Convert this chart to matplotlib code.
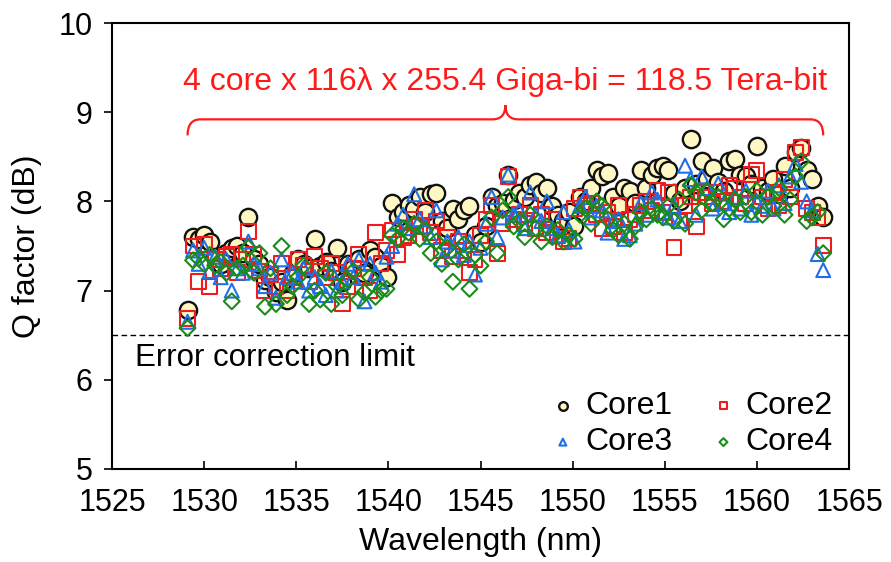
import numpy as np
import matplotlib
matplotlib.use("Agg")
import matplotlib.pyplot as plt
from matplotlib.path import Path
from matplotlib.patches import PathPatch

plt.rcParams["font.family"] = ["Liberation Sans", "DejaVu Sans"]

# channel wavelengths (nm), 116 channels
wavelength = [
    1529.1, 1529.4, 1529.7, 1530.0, 1530.3, 1530.6, 1530.9, 1531.2, 1531.5, 1531.8,
    1532.1, 1532.4, 1532.7, 1533.0, 1533.3, 1533.6, 1533.9, 1534.2, 1534.5, 1534.8,
    1535.1, 1535.4, 1535.7, 1536.0, 1536.3, 1536.6, 1536.9, 1537.2, 1537.5, 1537.8,
    1538.1, 1538.4, 1538.7, 1539.0, 1539.3, 1539.6, 1539.9, 1540.2, 1540.5, 1540.8,
    1541.1, 1541.4, 1541.7, 1542.0, 1542.3, 1542.6, 1542.9, 1543.2, 1543.5, 1543.8,
    1544.1, 1544.4, 1544.7, 1545.0, 1545.3, 1545.6, 1545.9, 1546.2, 1546.5, 1546.8,
    1547.1, 1547.4, 1547.7, 1548.0, 1548.3, 1548.6, 1548.9, 1549.2, 1549.5, 1549.8,
    1550.1, 1550.4, 1550.7, 1551.0, 1551.3, 1551.6, 1551.9, 1552.2, 1552.5, 1552.8,
    1553.1, 1553.4, 1553.7, 1554.0, 1554.3, 1554.6, 1554.9, 1555.2, 1555.5, 1555.8,
    1556.1, 1556.4, 1556.7, 1557.0, 1557.3, 1557.6, 1557.9, 1558.2, 1558.5, 1558.8,
    1559.1, 1559.4, 1559.7, 1560.0, 1560.3, 1560.6, 1560.9, 1561.2, 1561.5, 1561.8,
    1562.1, 1562.4, 1562.7, 1563.0, 1563.3, 1563.6,
]

core1 = [
    6.78, 7.60, 7.58, 7.62, 7.55, 7.38, 7.30, 7.42, 7.48, 7.50,
    7.42, 7.82, 7.35, 7.30, 7.12, 7.15, 6.98, 7.10, 6.90, 7.20,
    7.35, 7.30, 7.25, 7.58, 7.28, 7.32, 7.22, 7.48, 7.10, 7.30,
    7.25, 7.35, 7.20, 7.45, 7.38, 7.28, 7.15, 7.98, 7.82, 7.88,
    7.96, 7.92, 8.05, 7.88, 8.08, 8.10, 7.78, 7.70, 7.92, 7.80,
    7.90, 7.95, 7.62, 7.55, 7.72, 8.05, 7.95, 7.98, 8.30, 8.02,
    8.10, 8.05, 8.18, 8.22, 8.10, 8.15, 7.95, 7.85, 7.78, 7.88,
    7.72, 8.05, 8.00, 8.15, 8.35, 8.28, 8.32, 8.05, 7.95, 8.15,
    8.12, 7.98, 8.35, 8.15, 8.30, 8.38, 8.40, 8.35, 8.10, 8.00,
    8.15, 8.70, 8.20, 8.45, 8.25, 8.38, 8.22, 8.12, 8.45, 8.48,
    8.30, 8.28, 8.20, 8.62, 8.15, 8.12, 8.25, 8.08, 8.40, 8.15,
    8.55, 8.60, 8.35, 8.25, 7.95, 7.82,
]

core2 = [
    6.69, 7.50, 7.10, 7.52, 7.05, 7.35, 7.25, 7.38, 7.40, 7.20,
    7.35, 7.66, 7.40, 7.22, 7.00, 7.18, 7.05, 7.30, 7.00, 7.15,
    7.35, 7.28, 7.10, 7.38, 7.25, 7.15, 7.30, 7.20, 6.85, 7.05,
    7.25, 7.40, 7.15, 7.00, 7.65, 7.30, 7.45, 7.68, 7.40, 7.60,
    7.62, 7.80, 7.72, 7.90, 7.65, 7.78, 7.45, 7.60, 7.38, 7.55,
    7.45, 7.20, 7.35, 7.62, 7.80, 7.95, 7.42, 7.75, 8.28, 7.80,
    7.85, 7.75, 7.95, 7.70, 7.85, 7.65, 7.80, 7.62, 7.55, 7.58,
    7.92, 8.05, 7.95, 7.98, 7.85, 7.70, 7.88, 7.72, 7.95, 7.65,
    7.80, 7.85, 7.95, 8.00, 7.90, 8.12, 7.88, 8.10, 7.48, 7.78,
    7.95, 8.05, 7.72, 8.10, 8.05, 7.98, 8.10, 8.00, 8.18, 8.15,
    8.05, 7.98, 8.30, 8.35, 8.05, 7.92, 8.10, 7.95, 8.25, 8.05,
    8.55, 8.60, 7.92, 7.88, 7.82, 7.51,
]

core3 = [
    6.65, 7.45, 7.30, 7.48, 7.22, 7.38, 7.15, 7.35, 7.00, 7.25,
    7.20, 7.55, 7.30, 7.25, 7.05, 7.20, 6.92, 7.35, 7.15, 7.20,
    7.10, 7.25, 7.00, 7.15, 7.05, 6.95, 7.22, 7.00, 7.10, 7.30,
    7.15, 7.35, 6.88, 7.30, 7.20, 7.10, 7.38, 7.50, 7.75, 7.85,
    7.70, 8.08, 7.80, 7.72, 7.60, 7.90, 7.35, 7.55, 7.45, 7.60,
    7.40, 7.55, 7.18, 7.48, 7.75, 8.05, 7.60, 7.82, 8.30, 7.85,
    7.90, 7.70, 8.10, 7.85, 7.78, 8.00, 7.70, 7.62, 7.88, 7.68,
    7.55, 7.95, 8.05, 7.82, 7.95, 7.90, 7.65, 7.78, 7.80, 7.58,
    7.62, 7.75, 7.98, 7.85, 8.10, 8.02, 7.88, 7.82, 7.95, 7.78,
    8.40, 8.25, 7.85, 8.28, 8.15, 7.92, 8.20, 7.98, 7.88, 8.05,
    7.92, 8.12, 7.85, 8.00, 7.95, 8.12, 7.92, 8.18, 7.98, 8.28,
    8.42, 8.22, 8.00, 7.90, 7.41, 7.23,
]

core4 = [
    6.58, 7.34, 7.36, 7.30, 7.40, 7.28, 7.32, 7.20, 6.88, 7.25,
    7.28, 7.48, 7.20, 7.42, 6.82, 7.25, 6.85, 7.50, 6.95, 7.05,
    7.15, 7.28, 6.85, 7.00, 6.90, 7.20, 6.85, 7.05, 6.95, 7.12,
    7.22, 6.90, 6.98, 7.15, 6.93, 7.00, 7.02, 7.62, 7.58, 7.70,
    7.65, 7.75, 7.58, 7.68, 7.42, 7.55, 7.30, 7.48, 7.10, 7.35,
    7.52, 7.02, 7.40, 7.28, 7.55, 7.82, 7.42, 7.90, 8.05, 7.72,
    7.78, 7.60, 7.85, 7.70, 7.55, 7.72, 7.60, 7.68, 7.55, 7.62,
    7.58, 7.85, 7.92, 7.75, 8.00, 7.95, 7.80, 7.68, 7.62, 7.75,
    7.58, 7.72, 7.88, 7.80, 7.92, 7.85, 7.82, 7.95, 7.78, 8.02,
    7.75, 8.18, 8.10, 7.90, 8.12, 7.98, 8.05, 7.80, 7.92, 8.02,
    7.88, 8.05, 7.88, 8.12, 7.85, 8.05, 7.95, 8.15, 7.85, 8.02,
    8.28, 8.45, 7.78, 7.82, 7.88, 7.42,
]

fec_limit = 6.5
x_ticks = [1525, 1530, 1535, 1540, 1545, 1550, 1555, 1560, 1565]
y_ticks = [5, 6, 7, 8, 9, 10]

fig = plt.figure(figsize=(8.91, 5.62), dpi=100)
ax = fig.add_axes([0.1257, 0.1655, 0.8272, 0.7935])

h1 = ax.scatter(wavelength, core1, s=155, marker="o", facecolor="#fff7c4",
                edgecolor="#111111", linewidth=1.7, label="Core1", zorder=3)
h2 = ax.scatter(wavelength, core2, s=115, marker="s", facecolor="none",
                edgecolor="#ee1c1c", linewidth=1.5, label="Core2", zorder=4)
h3 = ax.scatter(wavelength, core3, s=100, marker="^", facecolor="none",
                edgecolor="#1f6fe8", linewidth=1.5, label="Core3", zorder=5)
h4 = ax.scatter(wavelength, core4, s=65, marker="D", facecolor="none",
                edgecolor="#1a8c1a", linewidth=1.5, label="Core4", zorder=6)

ax.axhline(fec_limit, color="black", linestyle=(0, (4, 2.5)), linewidth=1.0, zorder=2)
ax.text(1526.25, 6.25, "Error correction limit", fontsize=22.5, va="center", ha="left")

# red curly brace over the channel band
x0, x1 = wavelength[0], wavelength[-1]
xm = 0.5 * (x0 + x1)
yb, ylow, ytip, dx = 8.92, 8.74, 9.08, 0.7
verts = [(x0, ylow), (x0, yb), (x0 + dx, yb),
         (xm - dx, yb), (xm, yb), (xm, ytip),
         (xm, yb), (xm + dx, yb),
         (x1 - dx, yb), (x1, yb), (x1, ylow)]
codes = [Path.MOVETO, Path.CURVE3, Path.CURVE3,
         Path.LINETO, Path.CURVE3, Path.CURVE3,
         Path.CURVE3, Path.CURVE3,
         Path.LINETO, Path.CURVE3, Path.CURVE3]
ax.add_patch(PathPatch(Path(verts, codes), facecolor="none", edgecolor="#ff1a1a",
                       linewidth=1.6, zorder=3))
ax.text(xm, 9.34, "4 core x 116\u03bb x 255.4 Giga-bi = 118.5 Tera-bit",
        color="#ff1a1a", fontsize=23, ha="center", va="center")

ax.set_xlim(1525, 1565)
ax.set_ylim(5, 10)
ax.set_xticks(x_ticks)
ax.set_yticks(y_ticks)
ax.tick_params(axis="x", direction="in", length=6, width=1.2, labelsize=22, pad=14)
ax.tick_params(axis="y", direction="out", length=6, width=1.2, labelsize=22, pad=8)
for s in ax.spines.values():
    s.set_linewidth(1.5)
ax.set_xlabel("Wavelength (nm)", fontsize=23, labelpad=6)
ax.set_ylabel("Q factor (dB)", fontsize=23, labelpad=12)

ax.legend([h1, h3, h2, h4], ["Core1", "Core3", "Core2", "Core4"], ncol=2,
          loc="lower right", bbox_to_anchor=(1.0, -0.01), frameon=False,
          fontsize=23, markerscale=0.5, handletextpad=0.1, columnspacing=1.0,
          labelspacing=0.2, borderaxespad=0.1, handlelength=1.2)

fig.savefig("out.png", dpi=100)
